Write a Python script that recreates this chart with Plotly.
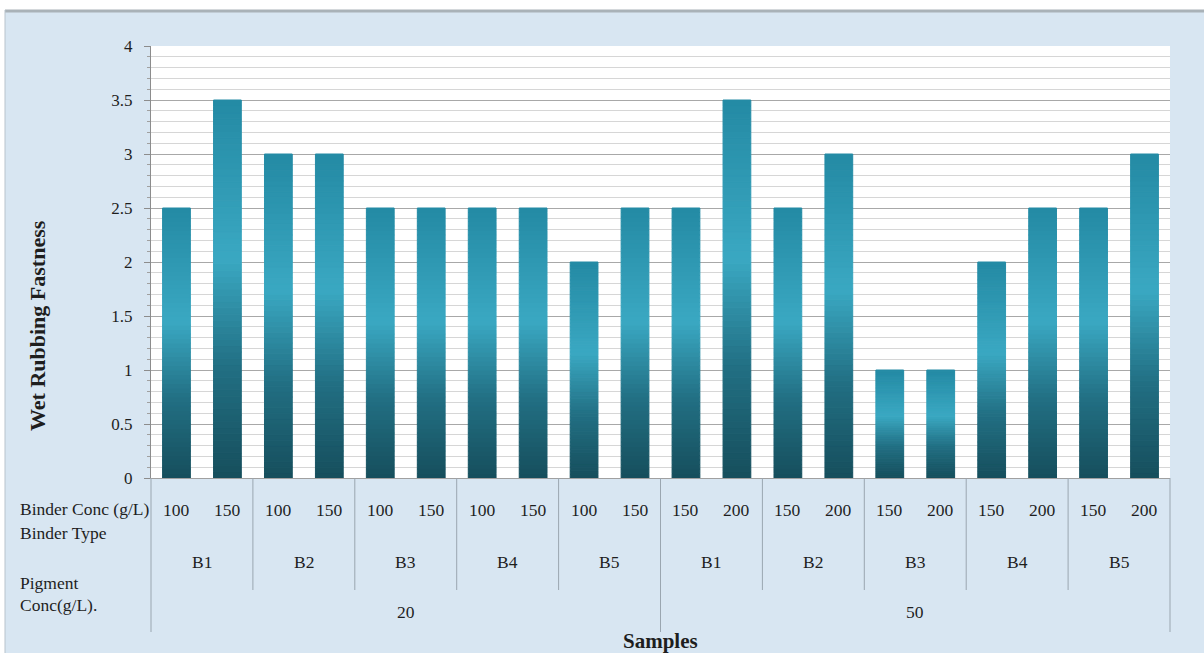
import plotly.graph_objects as go

# ---- data -------------------------------------------------------------
pigment_conc = [20] * 10 + [50] * 10
binder_type = ["B1", "B1", "B2", "B2", "B3", "B3", "B4", "B4", "B5", "B5"] * 2
binder_conc = [100, 150] * 5 + [150, 200] * 5
wet_rubbing = [2.5, 3.5, 3, 3, 2.5, 2.5, 2.5, 2.5, 2, 2.5,
               2.5, 3.5, 2.5, 3, 1, 1, 2, 2.5, 2.5, 3]
y_ticks = [0, 0.5, 1, 1.5, 2, 2.5, 3, 3.5, 4]

# ---- page geometry ----------------------------------------------------
W, H = 1204, 653
ML, MR, MT, MB = 151, 34, 46, 175
PW, PH = W - ML - MR, H - MT - MB
SERIF = "Liberation Serif, Times New Roman, serif"
TEXT = "#1e1e1e"
n = len(wet_rubbing)
idx = list(range(n))


def px_x(px):
    return (px - ML) / PW


def px_y(py):
    return (H - MB - py) / PH


def edge(k):
    # paper x of the boundary before category k
    return k / n


# ---- vertical gradient inside each bar --------------------------------
stops = [(0.0, (22, 78, 92)), (0.3, (34, 112, 132)), (0.58, (58, 168, 194)),
         (1.0, (36, 138, 164))]


def grad(f):
    for (f0, c0), (f1, c1) in zip(stops[:-1], stops[1:]):
        if f <= f1:
            t = (f - f0) / (f1 - f0)
            return "rgb(%d,%d,%d)" % tuple(round(a + (b - a) * t) for a, b in zip(c0, c1))
    return "rgb(%d,%d,%d)" % stops[-1][1]


# each bar is built from K stacked slices, bottom to top; a thin outline in
# the slice's own colour closes the hairline seams between slices
K = 60
fig = go.Figure()
for k in range(K):
    c = grad((k + 0.5) / K)
    fig.add_trace(go.Bar(
        x=idx, y=[v / K for v in wet_rubbing], base=[v * k / K for v in wet_rubbing],
        width=0.545, marker=dict(color=c, line=dict(width=1, color=c)),
        showlegend=False, hoverinfo="skip",
    ))

# ---- multi-level category labels ---------------------------------------
lab_font = dict(family=SERIF, size=17.5, color=TEXT)
ann = []
for i in idx:
    ann.append(dict(x=i, y=px_y(510), xref="x", yref="paper", text=str(binder_conc[i]),
                    xanchor="center", yanchor="middle", showarrow=False, font=lab_font))
for g in range(0, n, 2):
    ann.append(dict(x=g + 0.5, y=px_y(562), xref="x", yref="paper", text=binder_type[g],
                    xanchor="center", yanchor="middle", showarrow=False, font=lab_font))
for g in range(0, n, 10):
    ann.append(dict(x=g + 4.5, y=px_y(612), xref="x", yref="paper", text=str(pigment_conc[g]),
                    xanchor="center", yanchor="middle", showarrow=False, font=lab_font))

row_labels = [("Binder Conc (g/L)", 509), ("Binder Type", 533),
              ("Pigment", 583), ("Conc(g/L).", 605)]
for txt, py in row_labels:
    ann.append(dict(x=px_x(18), y=px_y(py), xref="paper", yref="paper", text=txt,
                    xanchor="left", yanchor="middle", showarrow=False, font=lab_font))

ann.append(dict(x=px_x(37), y=px_y(326), xref="paper", yref="paper",
                text="<b>Wet Rubbing Fastness</b>", textangle=-90, showarrow=False,
                xanchor="center", yanchor="middle",
                font=dict(family=SERIF, size=22, color=TEXT)))
ann.append(dict(x=px_x(660), y=px_y(641), xref="paper", yref="paper",
                text="<b>Samples</b>", showarrow=False,
                xanchor="center", yanchor="middle",
                font=dict(family=SERIF, size=21, color=TEXT)))

# ---- separators and frame ---------------------------------------------
shapes = []
for k in range(0, n + 1, 2):
    bottom = 632 if k % 10 == 0 else 590
    shapes.append(dict(type="line", xref="paper", yref="paper",
                       x0=edge(k), x1=edge(k), y0=0, y1=px_y(bottom),
                       line=dict(color="#9aa6b0", width=1)))

# white margin above / left of the textured panel, with a grey rim
shapes += [
    dict(type="rect", xref="paper", yref="paper", x0=px_x(0), x1=px_x(W),
         y0=px_y(10), y1=px_y(0), fillcolor="white", line=dict(width=0), layer="below"),
    dict(type="rect", xref="paper", yref="paper", x0=px_x(0), x1=px_x(5),
         y0=px_y(H), y1=px_y(0), fillcolor="white", line=dict(width=0), layer="below"),
    dict(type="line", xref="paper", yref="paper", x0=px_x(5), x1=px_x(W),
         y0=px_y(11), y1=px_y(11), line=dict(color="#a9b2b8", width=3)),
    dict(type="line", xref="paper", yref="paper", x0=px_x(5), x1=px_x(5),
         y0=px_y(H), y1=px_y(10), line=dict(color="#b8c3cc", width=1)),
]

fig.update_layout(
    width=W, height=H,
    margin=dict(l=ML, r=MR, t=MT, b=MB, pad=0),
    paper_bgcolor="#d8e6f2", plot_bgcolor="white",
    barmode="overlay", bargap=0.45,
    annotations=ann, shapes=shapes,
    xaxis=dict(range=[-0.5, n - 0.5], showticklabels=False, showgrid=False,
               zeroline=False, showline=True, linecolor="#a0a0a0", ticks=""),
    yaxis=dict(range=[0, 4], tickvals=y_ticks, ticktext=[f"{t:g}" for t in y_ticks],
               showgrid=True, gridcolor="#a8a8a8", gridwidth=1,
               zeroline=False, showline=True, linecolor="#8c8c8c",
               ticks="outside", ticklen=6, tickcolor="#8c8c8c",
               ticklabelstandoff=8,
               minor=dict(dtick=0.1, showgrid=True, gridcolor="#d6d6d6",
                          ticks="outside", ticklen=3, tickcolor="#a0a0a0"),
               tickfont=dict(family=SERIF, size=17, color=TEXT)),
)

fig.write_html("out.html")
